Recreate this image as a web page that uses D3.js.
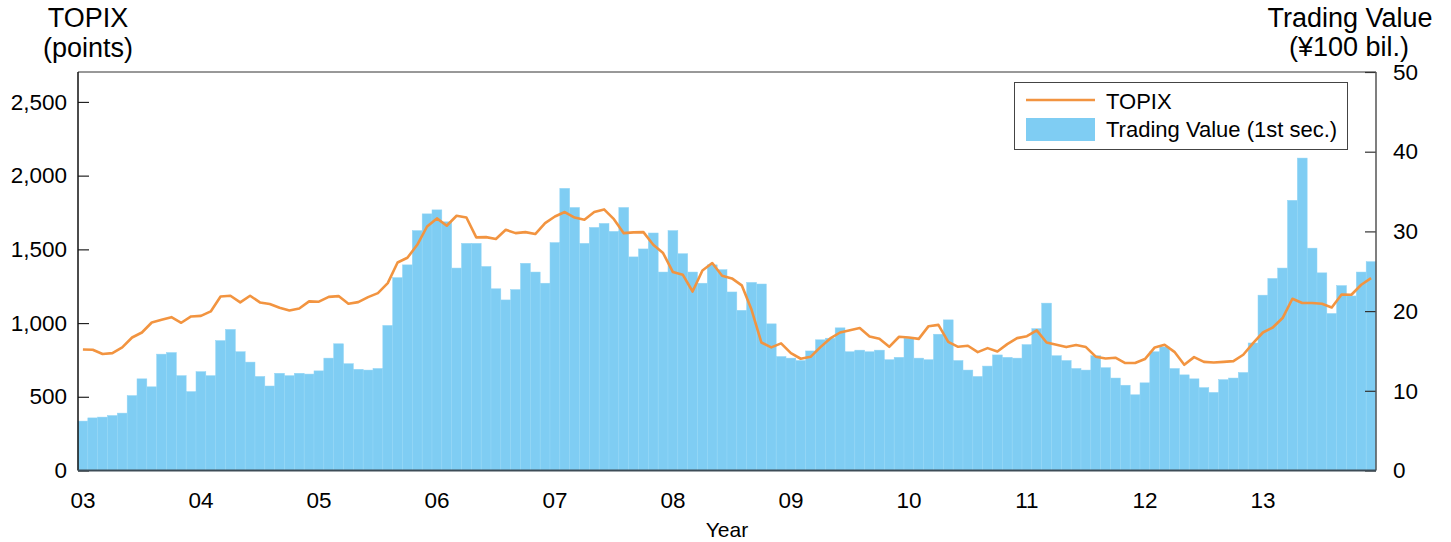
<!DOCTYPE html>
<html>
<head>
<meta charset="utf-8">
<script src="https://cdn.jsdelivr.net/npm/d3@7/dist/d3.min.js"></script>
<style>
  html, body { margin: 0; padding: 0; background: #fff; }
  svg { display: block; font-family: "Liberation Sans", Arial, Helvetica, sans-serif; }
</style>
</head>
<body>
<svg id="chart" width="1451" height="542"></svg>
<script>
// ---- DATA ----
const years = ["03","04","05","06","07","08","09","10","11","12","13"];
const months = [];
years.forEach(y => { for (let m = 1; m <= 12; m++) months.push("20" + y + "-" + String(m).padStart(2, "0")); });

// Trading value, 1st section (¥100 bil.), monthly Jan 2003 - Dec 2013
const tradingValue = [
  6.2, 6.6, 6.7, 6.9, 7.2, 9.4, 11.5, 10.5, 14.6, 14.8, 11.9, 9.9,
  12.4, 11.9, 16.3, 17.7, 14.9, 13.6, 11.8, 10.6, 12.2, 11.9, 12.2, 12.1,
  12.5, 14.1, 15.9, 13.4, 12.7, 12.6, 12.8, 18.2, 24.2, 25.8, 30.1, 32.2,
  32.7, 31.2, 25.4, 28.5, 28.5, 25.6, 22.8, 21.4, 22.7, 26.0, 24.9, 23.5,
  28.6, 35.4, 33.0, 28.5, 30.5, 31.0, 30.0, 33.0, 26.8, 27.8, 29.8, 24.9,
  30.1, 27.2, 24.9, 23.5, 25.8, 25.2, 22.4, 20.1, 23.6, 23.4, 18.4, 14.3,
  14.1, 13.8, 15.0, 16.4, 16.6, 17.9, 14.9, 15.1, 14.9, 15.1, 13.9, 14.2,
  16.6, 14.1, 13.9, 17.1, 18.9, 13.8, 12.6, 11.8, 13.1, 14.5, 14.2, 14.1,
  15.8, 17.8, 21.0, 14.4, 13.8, 12.8, 12.6, 14.4, 12.9, 11.6, 10.7, 9.5,
  11.0, 14.9, 15.5, 12.8, 12.0, 11.5, 10.4, 9.8, 11.4, 11.6, 12.3, 16.0,
  22.0, 24.1, 25.4, 33.9, 39.2, 27.9, 24.8, 19.7, 23.2, 21.9, 24.9, 26.2
];

// TOPIX (points), monthly
const topix = [
  821, 819, 790, 796, 835, 902, 936, 1004, 1022, 1040, 1002, 1045,
  1049, 1079, 1180, 1185, 1140, 1185, 1140, 1129, 1104, 1085, 1099, 1147,
  1145, 1178, 1183, 1131, 1142, 1176, 1203, 1271, 1411, 1443, 1531, 1655,
  1710, 1660, 1728, 1716, 1581, 1583, 1570, 1633, 1610, 1617, 1604, 1678,
  1723, 1753, 1716, 1701, 1753, 1771, 1705, 1610, 1615, 1617, 1531, 1475,
  1346, 1328, 1214, 1357, 1407, 1321, 1303, 1256, 1090, 868, 835, 862,
  796, 758, 771, 837, 896, 936, 952, 966, 909, 893, 839, 907,
  902, 893, 979, 988, 873, 839, 846, 803, 830, 807, 857, 898,
  911, 950, 868, 853, 837, 851, 837, 772, 760, 765, 729, 729,
  756, 835, 853, 805, 717, 769, 737, 733, 737, 742, 785, 864,
  936, 970, 1034, 1165, 1136, 1136, 1131, 1106, 1194, 1192, 1260, 1305
];

const leftTicks = [0, 500, 1000, 1500, 2000, 2500];
const rightTicks = [0, 10, 20, 30, 40, 50];
const seriesNames = ["TOPIX", "Trading Value (1st sec.)"];

// ---- LAYOUT ----
const svg = d3.select("#chart");
const L = 78, R = 1376, T = 72, B = 470.5;
const barColor = "#7fcdf3", lineColor = "#f29440";

const x = d3.scaleBand().domain(months).range([L, R]).padding(0);
const yL = d3.scaleLinear().domain([0, 2703]).range([B, T]);
const yR = d3.scaleLinear().domain([0, 50]).range([B, T]);

// bars
svg.append("g").selectAll("rect").data(months).join("rect")
  .attr("x", d => x(d))
  .attr("width", x.bandwidth())
  .attr("y", (d, i) => yR(tradingValue[i]))
  .attr("height", (d, i) => B - yR(tradingValue[i]))
  .attr("fill", barColor)
  .attr("stroke", "#92d5f5")
  .attr("stroke-width", 0.5);

// line
const line = d3.line()
  .x((d, i) => x(months[i]) + x.bandwidth() / 2)
  .y(d => yL(d));
svg.append("path").datum(topix)
  .attr("d", line)
  .attr("fill", "none")
  .attr("stroke", lineColor)
  .attr("stroke-width", 2.6)
  .attr("stroke-linejoin", "round");

// frame top
svg.append("line").attr("x1", L).attr("x2", R).attr("y1", T).attr("y2", T)
  .attr("stroke", "#333").attr("stroke-width", 1);

// left axis
const axL = svg.append("g").attr("transform", `translate(${L},0)`)
  .call(d3.axisRight(yL).tickValues(leftTicks).tickSize(11).tickFormat(d3.format(",")));
axL.select(".domain").remove();
axL.selectAll(".tick line").attr("stroke", "#222").attr("stroke-width", 1.2);
axL.selectAll(".tick text").attr("x", -11).attr("text-anchor", "end")
  .attr("font-size", 22.5).attr("fill", "#000").attr("font-family", "Liberation Sans, Arial, sans-serif");
svg.append("line").attr("x1", L).attr("x2", L).attr("y1", T).attr("y2", B)
  .attr("stroke", "#111").attr("stroke-width", 1.5);

// right axis
const axR = svg.append("g").attr("transform", `translate(${R},0)`)
  .call(d3.axisLeft(yR).tickValues(rightTicks).tickSize(11));
axR.select(".domain").remove();
axR.selectAll(".tick line").attr("stroke", "#333").attr("stroke-width", 1.2);
axR.selectAll(".tick text").attr("x", 17).attr("text-anchor", "start")
  .attr("font-size", 22.5).attr("fill", "#000").attr("font-family", "Liberation Sans, Arial, sans-serif");
svg.append("line").attr("x1", R).attr("x2", R).attr("y1", T).attr("y2", B)
  .attr("stroke", "#555").attr("stroke-width", 1.5);

// bottom axis
const axB = svg.append("g").attr("transform", `translate(0,${B})`)
  .call(d3.axisBottom(x).tickValues(years.map(y => "20" + y + "-01")).tickSize(0)
    .tickFormat(d => d.slice(2, 4)));
axB.select(".domain").remove();
axB.selectAll(".tick text").attr("y", 22).attr("font-size", 22.5).attr("fill", "#000")
  .attr("font-family", "Liberation Sans, Arial, sans-serif");
svg.append("line").attr("x1", L).attr("x2", R).attr("y1", B).attr("y2", B)
  .attr("stroke", "#3d4c57").attr("stroke-width", 2);

// axis titles
const title = (txt, xx, yy, size) => svg.append("text").attr("x", xx).attr("y", yy)
  .attr("text-anchor", "middle").attr("font-size", size).attr("fill", "#000").text(txt);
title("TOPIX", 88, 27, 27);
title("(points)", 88, 57, 27);
title("Trading Value", 1350, 27, 27);
title("(¥100 bil.)", 1349, 56, 27);
title("Year", 727, 537, 21);

// legend
const lg = svg.append("g");
lg.append("rect").attr("x", 1014.5).attr("y", 82.5).attr("width", 333).attr("height", 67)
  .attr("fill", "#fff").attr("stroke", "#444").attr("stroke-width", 1);
lg.append("line").attr("x1", 1026).attr("x2", 1095).attr("y1", 100).attr("y2", 100)
  .attr("stroke", lineColor).attr("stroke-width", 2.6);
lg.append("rect").attr("x", 1026).attr("y", 118).attr("width", 69).attr("height", 23).attr("fill", barColor);
lg.append("text").attr("x", 1106).attr("y", 109).attr("font-size", 22).attr("fill", "#000").text(seriesNames[0]);
lg.append("text").attr("x", 1106).attr("y", 137).attr("font-size", 22).attr("fill", "#000").text(seriesNames[1]);
</script>
</body>
</html>
